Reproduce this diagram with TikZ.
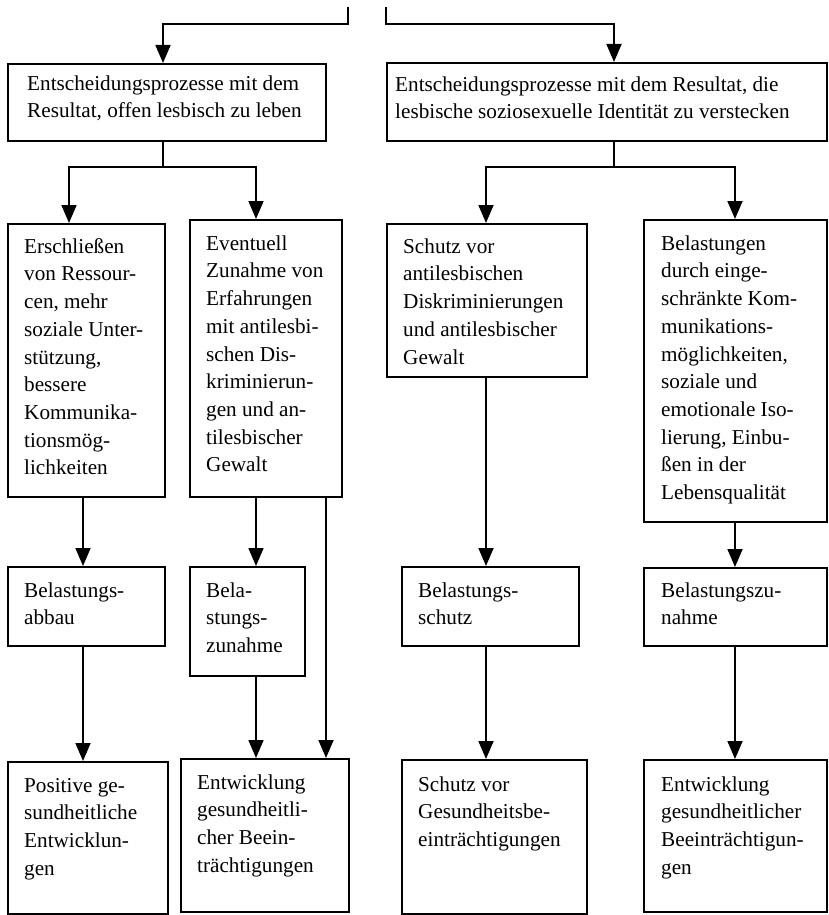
\documentclass[tikz,border=0pt]{standalone}
\usepackage{fontspec}
\setmainfont{Liberation Serif}
\usetikzlibrary{arrows.meta}
\tikzset{
  bx/.style={draw, line width=1.8pt, anchor=north west, inner sep=0pt, minimum width=#1},
  txt/.style={anchor=north west, inner sep=0pt, align=left, font=\fontsize{21.2}{27.7}\selectfont},
  conn/.style={line width=1.8pt},
  arr/.style={line width=1.8pt, -{Triangle[length=18pt, width=15pt]}}
}
\newcommand\tx[4]{\node[txt] (#1) at (#2,{#3-19.39}) {\strut #4};}
\begin{document}
\begin{tikzpicture}[x=1pt, y=-1pt]
\useasboundingbox (0,0) rectangle (828,915);
% boxes
\node[bx=318, minimum height=77] (T1) at (7,63) {};
\node[bx=440, minimum height=78] (T2) at (386,62) {};
\node[bx=157, minimum height=273] (A) at (7,223) {};
\node[bx=152, minimum height=277] (B) at (189,219) {};
\node[bx=200, minimum height=153] (C) at (386,223) {};
\node[bx=183, minimum height=302] (D) at (643,219) {};
\node[bx=157, minimum height=79] (E) at (7,566) {};
\node[bx=115, minimum height=109] (F) at (189,566) {};
\node[bx=177, minimum height=79] (G) at (401,566) {};
\node[bx=183, minimum height=78] (H) at (643,567) {};
\node[bx=160, minimum height=152] (I) at (7,761) {};
\node[bx=168, minimum height=153] (J) at (180,758) {};
\node[bx=185, minimum height=154] (K) at (401,759) {};
\node[bx=183, minimum height=152] (L) at (643,759) {};
% texts
\tx{tT1}{27}{90}{Entscheidungsprozesse mit dem\\Resultat, offen lesbisch zu leben}
\tx{tT2}{395}{91}{Entscheidungsprozesse mit dem Resultat, die\\lesbische soziosexuelle Identität zu verstecken}
\tx{tA}{24}{253}{Erschließen\\von Ressour-\\cen, mehr\\soziale Unter-\\stützung,\\bessere\\Kommunika-\\tionsmög-\\lichkeiten}
\tx{tB}{206}{250}{Eventuell\\Zunahme von\\Erfahrungen\\mit antilesbi-\\schen Dis-\\kriminierun-\\gen und an-\\tilesbischer\\Gewalt}
\tx{tC}{403}{253}{Schutz vor\\antilesbischen\\Diskriminierungen\\und antilesbischer\\Gewalt}
\tx{tD}{661}{250}{Belastungen\\durch einge-\\schränkte Kom-\\munikations-\\möglichkeiten,\\soziale und\\emotionale Iso-\\lierung, Einbu-\\ßen in der\\Lebensqualität}
\tx{tE}{24}{597}{Belastungs-\\abbau}
\tx{tF}{206}{597}{Bela-\\stungs-\\zunahme}
\tx{tG}{418}{597}{Belastungs-\\schutz}
\tx{tH}{661}{597}{Belastungszu-\\nahme}
\tx{tI}{24}{792}{Positive ge-\\sundheitliche\\Entwicklun-\\gen}
\tx{tJ}{197}{789}{Entwicklung\\gesundheitli-\\cher Beein-\\trächtigungen}
\tx{tK}{418}{791}{Schutz vor\\Gesundheitsbe-\\einträchtigungen}
\tx{tL}{661}{791}{Entwicklung\\gesundheitlicher\\Beeinträchtigun-\\gen}
% connector coordinates
\coordinate (s1) at (348,7);
\coordinate (s2) at (386,7);
\coordinate (j1) at (163,24);
\coordinate (j2) at (614,24);
\coordinate (b1) at (163,167);
\coordinate (b2) at (614,167);
\coordinate (xl1) at (69,0);
\coordinate (xr1) at (256,0);
\coordinate (xl2) at (486,0);
\coordinate (xr2) at (735,0);
\coordinate (xa) at (83,0);
\coordinate (xb) at (326,0);
% connectors
\draw[arr] (s1) |- (j1) -- (j1 |- T1.north);
\draw[arr] (s2) |- (j2) -- (j2 |- T2.north);
\draw[conn] (T1.south -| b1) -- (b1);
\draw[arr] (b1) -| (A.north -| xl1);
\draw[arr] (b1) -| (B.north -| xr1);
\draw[conn] (T2.south -| b2) -- (b2);
\draw[arr] (b2) -| (C.north -| xl2);
\draw[arr] (b2) -| (D.north -| xr2);
\draw[arr] (A.south -| xa) -- (E.north -| xa);
\draw[arr] (E.south -| xa) -- (I.north -| xa);
\draw[arr] (B.south -| xr1) -- (F.north -| xr1);
\draw[arr] (F.south -| xr1) -- (J.north -| xr1);
\draw[arr] (B.south -| xb) -- (J.north -| xb);
\draw[arr] (C.south -| xl2) -- (G.north -| xl2);
\draw[arr] (G.south -| xl2) -- (K.north -| xl2);
\draw[arr] (D.south -| xr2) -- (H.north -| xr2);
\draw[arr] (H.south -| xr2) -- (L.north -| xr2);
\end{tikzpicture}
\end{document}
